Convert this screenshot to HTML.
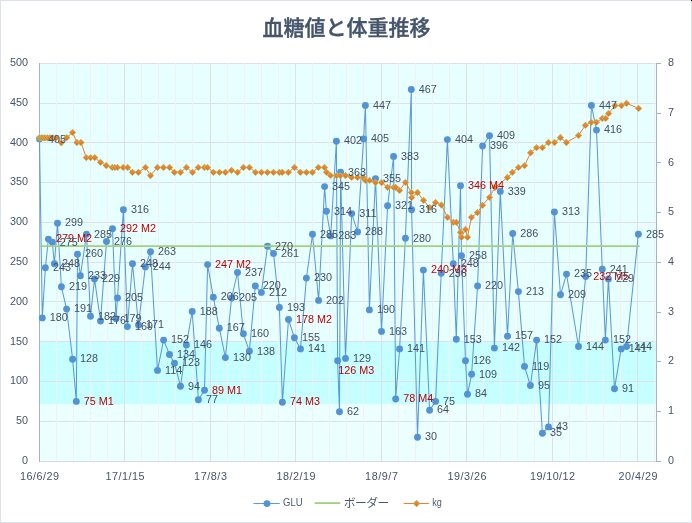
<!DOCTYPE html>
<html lang="ja"><head><meta charset="utf-8"><title>血糖値と体重推移</title>
<style>html,body{margin:0;padding:0;background:#fff;overflow:hidden}svg{display:block}text{font-family:"Liberation Sans","Noto Sans CJK JP",sans-serif}</style></head><body>
<svg width="692" height="523" viewBox="0 0 692 523">
<rect x="0" y="0" width="692" height="523" fill="#fff"/>
<rect x="0.5" y="0.5" width="691" height="522" fill="none" stroke="#dde2ea" stroke-width="1"/>
<rect x="691" y="0" width="1" height="1" fill="#000"/>
<rect x="39.5" y="63.0" width="617.0" height="399.0" fill="#e8ffff"/>
<rect x="39.5" y="341.2" width="617.0" height="63.1" fill="#c5ffff"/>
<rect x="39.5" y="404.3" width="617.0" height="57.7" fill="#ebffff"/>
<path d="M39.5 421.5H656.5M39.5 381.5H656.5M39.5 341.5H656.5M39.5 301.5H656.5M39.5 262.5H656.5M39.5 222.5H656.5M39.5 182.5H656.5M39.5 142.5H656.5M39.5 103.5H656.5M39.5 63.5H656.5" stroke="#dde0e8" stroke-width="1" fill="none"/>
<path d="M56.5 63.0V462.0M73.5 63.0V462.0M90.5 63.0V462.0M107.5 63.0V462.0M141.5 63.0V462.0M158.5 63.0V462.0M175.5 63.0V462.0M192.5 63.0V462.0M227.5 63.0V462.0M244.5 63.0V462.0M261.5 63.0V462.0M278.5 63.0V462.0M312.5 63.0V462.0M329.5 63.0V462.0M346.5 63.0V462.0M363.5 63.0V462.0M398.5 63.0V462.0M415.5 63.0V462.0M432.5 63.0V462.0M449.5 63.0V462.0M483.5 63.0V462.0M500.5 63.0V462.0M517.5 63.0V462.0M534.5 63.0V462.0M569.5 63.0V462.0M586.5 63.0V462.0M603.5 63.0V462.0M620.5 63.0V462.0M654.5 63.0V462.0" stroke="#f1f1f4" stroke-width="1" fill="none"/>
<path d="M124.5 63.0V462.0M210.5 63.0V462.0M295.5 63.0V462.0M381.5 63.0V462.0M466.5 63.0V462.0M552.5 63.0V462.0M637.5 63.0V462.0" stroke="#dde0e8" stroke-width="1" fill="none"/>
<path d="M39.5 461.5H656.5" stroke="#d3dae6" stroke-width="1" fill="none"/>
<path d="M39.5 63.0V462.0" stroke="#a6b2c9" stroke-width="1" fill="none"/>
<path d="M656.5 63.0V462.0M656.5 461.5h4.5M656.5 411.5h4.5M656.5 361.5h4.5M656.5 312.5h4.5M656.5 262.5h4.5M656.5 212.5h4.5M656.5 162.5h4.5M656.5 113.5h4.5M656.5 63.5h4.5" stroke="#a6b2c9" stroke-width="1" fill="none"/>
<g font-size="10.8" fill="#44546a">
<text x="28" y="463.9" text-anchor="end">0</text>
<text x="28" y="424.1" text-anchor="end">50</text>
<text x="28" y="384.3" text-anchor="end">100</text>
<text x="28" y="344.5" text-anchor="end">150</text>
<text x="28" y="304.8" text-anchor="end">200</text>
<text x="28" y="265.0" text-anchor="end">250</text>
<text x="28" y="225.2" text-anchor="end">300</text>
<text x="28" y="185.4" text-anchor="end">350</text>
<text x="28" y="145.6" text-anchor="end">400</text>
<text x="28" y="105.9" text-anchor="end">450</text>
<text x="28" y="66.1" text-anchor="end">500</text>
<text x="668" y="463.9">0</text>
<text x="668" y="414.1">1</text>
<text x="668" y="364.4">2</text>
<text x="668" y="314.7">3</text>
<text x="668" y="265.0">4</text>
<text x="668" y="215.2">5</text>
<text x="668" y="165.5">6</text>
<text x="668" y="115.8">7</text>
<text x="668" y="66.1">8</text>
<text x="20.1" y="479.9" textLength="38.8" lengthAdjust="spacing">16/6/29</text>
<text x="105.6" y="479.9" textLength="38.8" lengthAdjust="spacing">17/1/15</text>
<text x="194.1" y="479.9" textLength="32.8" lengthAdjust="spacing">17/8/3</text>
<text x="276.6" y="479.9" textLength="38.8" lengthAdjust="spacing">18/2/19</text>
<text x="365.1" y="479.9" textLength="32.8" lengthAdjust="spacing">18/9/7</text>
<text x="447.6" y="479.9" textLength="38.8" lengthAdjust="spacing">19/3/26</text>
<text x="530.0" y="479.9" textLength="44.9" lengthAdjust="spacing">19/10/12</text>
<text x="618.6" y="479.9" textLength="38.8" lengthAdjust="spacing">20/4/29</text>
</g>
<text x="346.5" y="35" text-anchor="middle" font-size="21" font-weight="500" fill="#44546a" stroke="#44546a" stroke-width="0.4" style="font-family:'Noto Sans CJK JP','Liberation Sans',sans-serif">血糖値と体重推移</text>
<polyline points="39.5,138.9 42.3,317.9 45.4,267.7 48.4,239.1 52.3,242.3 54.4,263.8 57.5,223.2 61.4,286.8 66.6,309.1 72.6,359.2 76.3,401.4 77.5,254.2 80.4,275.7 86.5,234.3 90.5,316.3 94.5,278.9 100.5,321.0 106.5,241.5 112.5,228.8 116.0,318.7 117.5,298.0 123.4,209.7 127.4,326.6 132.5,263.8 138.5,325.0 145.3,266.9 150.5,251.8 157.5,370.4 163.6,340.1 169.5,354.5 174.5,363.2 180.5,386.3 186.4,344.9 192.2,311.5 198.4,399.8 204.5,390.3 207.6,264.6 213.3,297.2 219.3,328.2 225.4,357.6 231.6,298.0 237.5,272.5 243.4,333.8 249.4,351.3 255.3,286.0 261.4,292.4 267.5,246.3 273.5,253.4 279.4,307.5 282.4,402.2 288.5,319.5 294.4,337.8 300.5,348.9 306.4,278.1 312.5,234.3 318.6,300.4 324.6,186.6 326.4,211.3 330.7,235.9 336.4,141.2 337.6,360.8 339.5,411.7 340.6,172.3 345.5,358.4 351.7,213.6 357.6,231.9 363.6,138.9 365.4,105.4 369.4,309.9 375.5,178.6 381.5,331.4 387.6,205.7 393.6,156.4 395.7,399.0 399.6,348.9 405.4,238.3 411.3,89.5 411.6,209.7 417.5,437.2 423.4,270.1 429.6,410.2 435.6,401.4 441.2,273.3 447.4,139.6 453.3,263.8 456.3,339.3 460.5,185.8 461.5,255.8 465.5,360.8 467.5,394.2 471.6,374.3 477.6,286.0 482.6,146.0 489.5,135.7 494.4,348.1 500.3,191.4 507.5,336.2 512.7,233.5 518.4,291.6 524.5,366.4 530.4,385.5 536.6,340.1 542.4,433.2 548.5,426.9 554.4,212.0 560.5,294.8 566.5,274.1 578.5,346.5 585.7,276.5 591.4,105.4 596.5,130.1 602.3,269.3 605.4,340.1 608.4,278.9 614.5,388.7 621.2,348.9 626.6,346.5 638.4,234.3" fill="none" stroke="#5b9bd5" stroke-width="1.05" stroke-linejoin="round"/>
<g fill="#5293d6">
<circle cx="39.5" cy="138.9" r="3.45"/>
<circle cx="42.3" cy="317.9" r="3.45"/>
<circle cx="45.4" cy="267.7" r="3.45"/>
<circle cx="48.4" cy="239.1" r="3.45"/>
<circle cx="52.3" cy="242.3" r="3.45"/>
<circle cx="54.4" cy="263.8" r="3.45"/>
<circle cx="57.5" cy="223.2" r="3.45"/>
<circle cx="61.4" cy="286.8" r="3.45"/>
<circle cx="66.6" cy="309.1" r="3.45"/>
<circle cx="72.6" cy="359.2" r="3.45"/>
<circle cx="76.3" cy="401.4" r="3.45"/>
<circle cx="77.5" cy="254.2" r="3.45"/>
<circle cx="80.4" cy="275.7" r="3.45"/>
<circle cx="86.5" cy="234.3" r="3.45"/>
<circle cx="90.5" cy="316.3" r="3.45"/>
<circle cx="94.5" cy="278.9" r="3.45"/>
<circle cx="100.5" cy="321.0" r="3.45"/>
<circle cx="106.5" cy="241.5" r="3.45"/>
<circle cx="112.5" cy="228.8" r="3.45"/>
<circle cx="116.0" cy="318.7" r="3.45"/>
<circle cx="117.5" cy="298.0" r="3.45"/>
<circle cx="123.4" cy="209.7" r="3.45"/>
<circle cx="127.4" cy="326.6" r="3.45"/>
<circle cx="132.5" cy="263.8" r="3.45"/>
<circle cx="138.5" cy="325.0" r="3.45"/>
<circle cx="145.3" cy="266.9" r="3.45"/>
<circle cx="150.5" cy="251.8" r="3.45"/>
<circle cx="157.5" cy="370.4" r="3.45"/>
<circle cx="163.6" cy="340.1" r="3.45"/>
<circle cx="169.5" cy="354.5" r="3.45"/>
<circle cx="174.5" cy="363.2" r="3.45"/>
<circle cx="180.5" cy="386.3" r="3.45"/>
<circle cx="186.4" cy="344.9" r="3.45"/>
<circle cx="192.2" cy="311.5" r="3.45"/>
<circle cx="198.4" cy="399.8" r="3.45"/>
<circle cx="204.5" cy="390.3" r="3.45"/>
<circle cx="207.6" cy="264.6" r="3.45"/>
<circle cx="213.3" cy="297.2" r="3.45"/>
<circle cx="219.3" cy="328.2" r="3.45"/>
<circle cx="225.4" cy="357.6" r="3.45"/>
<circle cx="231.6" cy="298.0" r="3.45"/>
<circle cx="237.5" cy="272.5" r="3.45"/>
<circle cx="243.4" cy="333.8" r="3.45"/>
<circle cx="249.4" cy="351.3" r="3.45"/>
<circle cx="255.3" cy="286.0" r="3.45"/>
<circle cx="261.4" cy="292.4" r="3.45"/>
<circle cx="267.5" cy="246.3" r="3.45"/>
<circle cx="273.5" cy="253.4" r="3.45"/>
<circle cx="279.4" cy="307.5" r="3.45"/>
<circle cx="282.4" cy="402.2" r="3.45"/>
<circle cx="288.5" cy="319.5" r="3.45"/>
<circle cx="294.4" cy="337.8" r="3.45"/>
<circle cx="300.5" cy="348.9" r="3.45"/>
<circle cx="306.4" cy="278.1" r="3.45"/>
<circle cx="312.5" cy="234.3" r="3.45"/>
<circle cx="318.6" cy="300.4" r="3.45"/>
<circle cx="324.6" cy="186.6" r="3.45"/>
<circle cx="326.4" cy="211.3" r="3.45"/>
<circle cx="330.7" cy="235.9" r="3.45"/>
<circle cx="336.4" cy="141.2" r="3.45"/>
<circle cx="337.6" cy="360.8" r="3.45"/>
<circle cx="339.5" cy="411.7" r="3.45"/>
<circle cx="340.6" cy="172.3" r="3.45"/>
<circle cx="345.5" cy="358.4" r="3.45"/>
<circle cx="351.7" cy="213.6" r="3.45"/>
<circle cx="357.6" cy="231.9" r="3.45"/>
<circle cx="363.6" cy="138.9" r="3.45"/>
<circle cx="365.4" cy="105.4" r="3.45"/>
<circle cx="369.4" cy="309.9" r="3.45"/>
<circle cx="375.5" cy="178.6" r="3.45"/>
<circle cx="381.5" cy="331.4" r="3.45"/>
<circle cx="387.6" cy="205.7" r="3.45"/>
<circle cx="393.6" cy="156.4" r="3.45"/>
<circle cx="395.7" cy="399.0" r="3.45"/>
<circle cx="399.6" cy="348.9" r="3.45"/>
<circle cx="405.4" cy="238.3" r="3.45"/>
<circle cx="411.3" cy="89.5" r="3.45"/>
<circle cx="411.6" cy="209.7" r="3.45"/>
<circle cx="417.5" cy="437.2" r="3.45"/>
<circle cx="423.4" cy="270.1" r="3.45"/>
<circle cx="429.6" cy="410.2" r="3.45"/>
<circle cx="435.6" cy="401.4" r="3.45"/>
<circle cx="441.2" cy="273.3" r="3.45"/>
<circle cx="447.4" cy="139.6" r="3.45"/>
<circle cx="453.3" cy="263.8" r="3.45"/>
<circle cx="456.3" cy="339.3" r="3.45"/>
<circle cx="460.5" cy="185.8" r="3.45"/>
<circle cx="461.5" cy="255.8" r="3.45"/>
<circle cx="465.5" cy="360.8" r="3.45"/>
<circle cx="467.5" cy="394.2" r="3.45"/>
<circle cx="471.6" cy="374.3" r="3.45"/>
<circle cx="477.6" cy="286.0" r="3.45"/>
<circle cx="482.6" cy="146.0" r="3.45"/>
<circle cx="489.5" cy="135.7" r="3.45"/>
<circle cx="494.4" cy="348.1" r="3.45"/>
<circle cx="500.3" cy="191.4" r="3.45"/>
<circle cx="507.5" cy="336.2" r="3.45"/>
<circle cx="512.7" cy="233.5" r="3.45"/>
<circle cx="518.4" cy="291.6" r="3.45"/>
<circle cx="524.5" cy="366.4" r="3.45"/>
<circle cx="530.4" cy="385.5" r="3.45"/>
<circle cx="536.6" cy="340.1" r="3.45"/>
<circle cx="542.4" cy="433.2" r="3.45"/>
<circle cx="548.5" cy="426.9" r="3.45"/>
<circle cx="554.4" cy="212.0" r="3.45"/>
<circle cx="560.5" cy="294.8" r="3.45"/>
<circle cx="566.5" cy="274.1" r="3.45"/>
<circle cx="578.5" cy="346.5" r="3.45"/>
<circle cx="585.7" cy="276.5" r="3.45"/>
<circle cx="591.4" cy="105.4" r="3.45"/>
<circle cx="596.5" cy="130.1" r="3.45"/>
<circle cx="602.3" cy="269.3" r="3.45"/>
<circle cx="605.4" cy="340.1" r="3.45"/>
<circle cx="608.4" cy="278.9" r="3.45"/>
<circle cx="614.5" cy="388.7" r="3.45"/>
<circle cx="621.2" cy="348.9" r="3.45"/>
<circle cx="626.6" cy="346.5" r="3.45"/>
<circle cx="638.4" cy="234.3" r="3.45"/>
</g>
<path d="M39.5 246.1H639.6" stroke="#a3d07a" stroke-width="1.8" fill="none"/>
<polyline points="39.5,137.8 41.2,137.8 43.0,137.8 45.0,137.8 47.5,137.8 50.0,137.8 53.0,137.8 56.0,137.8 61.3,142.8 66.8,137.6 72.6,132.4 76.9,142.5 81.0,142.5 86.3,157.6 90.6,157.6 94.7,157.6 100.5,162.3 106.2,165.5 112.3,167.4 114.8,167.4 117.4,167.4 123.2,167.4 127.6,167.4 132.4,172.3 138.4,172.3 145.5,167.4 150.5,175.5 157.4,167.4 163.5,167.4 169.6,167.4 174.4,172.3 180.5,172.3 186.4,167.4 192.5,172.3 198.3,167.4 204.4,167.4 207.5,167.4 213.4,172.3 219.5,172.3 225.4,172.3 231.5,170.3 237.5,172.3 243.4,167.4 249.4,167.4 255.5,172.3 261.4,172.3 267.4,172.3 273.5,172.3 279.4,172.3 282.2,172.3 288.4,172.3 294.5,167.4 300.4,172.3 306.4,172.3 312.4,172.3 318.4,167.4 324.5,167.4 326.5,172.2 330.5,175.4 336.5,175.6 340.3,175.6 345.5,175.5 351.6,177.4 357.5,177.4 363.3,177.4 365.4,180.4 369.6,180.4 375.5,182.5 381.6,182.5 387.6,187.3 393.6,187.3 395.6,187.3 399.5,190.4 405.4,182.4 411.4,192.5 411.6,197.6 417.5,192.5 423.5,200.3 429.7,207.6 435.5,202.4 441.4,205.0 447.5,217.3 453.4,222.3 456.4,222.3 460.5,232.3 461.5,237.2 465.5,229.4 467.5,237.2 471.4,217.3 477.5,212.5 482.5,205.3 489.5,197.3 495.0,187.5 507.4,177.5 512.4,172.3 518.5,167.4 524.6,165.6 530.6,152.7 536.6,147.6 542.4,147.6 548.4,142.5 554.5,142.5 560.4,137.5 566.4,142.5 578.5,135.4 585.4,125.3 591.3,122.3 596.4,122.3 602.3,118.4 605.6,118.4 608.6,113.4 615.0,105.6 621.4,105.6 626.6,103.3 638.6,108.4" fill="none" stroke="#ed7d31" stroke-width="1" stroke-linejoin="round"/>
<defs><linearGradient id="dg" x1="0" y1="0" x2="0" y2="1"><stop offset="0" stop-color="#f88d40"/><stop offset="1" stop-color="#e96c1b"/></linearGradient></defs>
<defs><g id="dm"><path d="M0 -3.65L3.65 0L0 3.65L-3.65 0Z" fill="#9fcd6a"/><path d="M0 -2.95L2.95 0L0 2.95L-2.95 0Z" fill="url(#dg)"/></g></defs>
<use href="#dm" x="39.5" y="137.8"/>
<use href="#dm" x="41.2" y="137.8"/>
<use href="#dm" x="43.0" y="137.8"/>
<use href="#dm" x="45.0" y="137.8"/>
<use href="#dm" x="47.5" y="137.8"/>
<use href="#dm" x="50.0" y="137.8"/>
<use href="#dm" x="53.0" y="137.8"/>
<use href="#dm" x="56.0" y="137.8"/>
<use href="#dm" x="61.3" y="142.8"/>
<use href="#dm" x="66.8" y="137.6"/>
<use href="#dm" x="72.6" y="132.4"/>
<use href="#dm" x="76.9" y="142.5"/>
<use href="#dm" x="81.0" y="142.5"/>
<use href="#dm" x="86.3" y="157.6"/>
<use href="#dm" x="90.6" y="157.6"/>
<use href="#dm" x="94.7" y="157.6"/>
<use href="#dm" x="100.5" y="162.3"/>
<use href="#dm" x="106.2" y="165.5"/>
<use href="#dm" x="112.3" y="167.4"/>
<use href="#dm" x="114.8" y="167.4"/>
<use href="#dm" x="117.4" y="167.4"/>
<use href="#dm" x="123.2" y="167.4"/>
<use href="#dm" x="127.6" y="167.4"/>
<use href="#dm" x="132.4" y="172.3"/>
<use href="#dm" x="138.4" y="172.3"/>
<use href="#dm" x="145.5" y="167.4"/>
<use href="#dm" x="150.5" y="175.5"/>
<use href="#dm" x="157.4" y="167.4"/>
<use href="#dm" x="163.5" y="167.4"/>
<use href="#dm" x="169.6" y="167.4"/>
<use href="#dm" x="174.4" y="172.3"/>
<use href="#dm" x="180.5" y="172.3"/>
<use href="#dm" x="186.4" y="167.4"/>
<use href="#dm" x="192.5" y="172.3"/>
<use href="#dm" x="198.3" y="167.4"/>
<use href="#dm" x="204.4" y="167.4"/>
<use href="#dm" x="207.5" y="167.4"/>
<use href="#dm" x="213.4" y="172.3"/>
<use href="#dm" x="219.5" y="172.3"/>
<use href="#dm" x="225.4" y="172.3"/>
<use href="#dm" x="231.5" y="170.3"/>
<use href="#dm" x="237.5" y="172.3"/>
<use href="#dm" x="243.4" y="167.4"/>
<use href="#dm" x="249.4" y="167.4"/>
<use href="#dm" x="255.5" y="172.3"/>
<use href="#dm" x="261.4" y="172.3"/>
<use href="#dm" x="267.4" y="172.3"/>
<use href="#dm" x="273.5" y="172.3"/>
<use href="#dm" x="279.4" y="172.3"/>
<use href="#dm" x="282.2" y="172.3"/>
<use href="#dm" x="288.4" y="172.3"/>
<use href="#dm" x="294.5" y="167.4"/>
<use href="#dm" x="300.4" y="172.3"/>
<use href="#dm" x="306.4" y="172.3"/>
<use href="#dm" x="312.4" y="172.3"/>
<use href="#dm" x="318.4" y="167.4"/>
<use href="#dm" x="324.5" y="167.4"/>
<use href="#dm" x="326.5" y="172.2"/>
<use href="#dm" x="330.5" y="175.4"/>
<use href="#dm" x="336.5" y="175.6"/>
<use href="#dm" x="340.3" y="175.6"/>
<use href="#dm" x="345.5" y="175.5"/>
<use href="#dm" x="351.6" y="177.4"/>
<use href="#dm" x="357.5" y="177.4"/>
<use href="#dm" x="363.3" y="177.4"/>
<use href="#dm" x="365.4" y="180.4"/>
<use href="#dm" x="369.6" y="180.4"/>
<use href="#dm" x="375.5" y="182.5"/>
<use href="#dm" x="381.6" y="182.5"/>
<use href="#dm" x="387.6" y="187.3"/>
<use href="#dm" x="393.6" y="187.3"/>
<use href="#dm" x="395.6" y="187.3"/>
<use href="#dm" x="399.5" y="190.4"/>
<use href="#dm" x="405.4" y="182.4"/>
<use href="#dm" x="411.4" y="192.5"/>
<use href="#dm" x="411.6" y="197.6"/>
<use href="#dm" x="417.5" y="192.5"/>
<use href="#dm" x="423.5" y="200.3"/>
<use href="#dm" x="429.7" y="207.6"/>
<use href="#dm" x="435.5" y="202.4"/>
<use href="#dm" x="441.4" y="205.0"/>
<use href="#dm" x="447.5" y="217.3"/>
<use href="#dm" x="453.4" y="222.3"/>
<use href="#dm" x="456.4" y="222.3"/>
<use href="#dm" x="460.5" y="232.3"/>
<use href="#dm" x="461.5" y="237.2"/>
<use href="#dm" x="465.5" y="229.4"/>
<use href="#dm" x="467.5" y="237.2"/>
<use href="#dm" x="471.4" y="217.3"/>
<use href="#dm" x="477.5" y="212.5"/>
<use href="#dm" x="482.5" y="205.3"/>
<use href="#dm" x="489.5" y="197.3"/>
<use href="#dm" x="495.0" y="187.5"/>
<use href="#dm" x="507.4" y="177.5"/>
<use href="#dm" x="512.4" y="172.3"/>
<use href="#dm" x="518.5" y="167.4"/>
<use href="#dm" x="524.6" y="165.6"/>
<use href="#dm" x="530.6" y="152.7"/>
<use href="#dm" x="536.6" y="147.6"/>
<use href="#dm" x="542.4" y="147.6"/>
<use href="#dm" x="548.4" y="142.5"/>
<use href="#dm" x="554.5" y="142.5"/>
<use href="#dm" x="560.4" y="137.5"/>
<use href="#dm" x="566.4" y="142.5"/>
<use href="#dm" x="578.5" y="135.4"/>
<use href="#dm" x="585.4" y="125.3"/>
<use href="#dm" x="591.3" y="122.3"/>
<use href="#dm" x="596.4" y="122.3"/>
<use href="#dm" x="602.3" y="118.4"/>
<use href="#dm" x="605.6" y="118.4"/>
<use href="#dm" x="608.6" y="113.4"/>
<use href="#dm" x="615.0" y="105.6"/>
<use href="#dm" x="621.4" y="105.6"/>
<use href="#dm" x="626.6" y="103.3"/>
<use href="#dm" x="638.6" y="108.4"/>
<g font-size="10.8" fill="#414f63">
<text x="48.0" y="142.9">405</text>
<text x="49.8" y="321.1">180</text>
<text x="52.9" y="270.9">243</text>
<text x="55.9" y="242.3" fill="#c00000">279 M2</text>
<text x="59.8" y="245.5">275</text>
<text x="61.9" y="267.0">248</text>
<text x="65.0" y="226.4">299</text>
<text x="68.9" y="290.0">219</text>
<text x="74.1" y="312.3">191</text>
<text x="80.1" y="362.4">128</text>
<text x="83.8" y="404.6" fill="#c00000">75 M1</text>
<text x="85.0" y="257.4">260</text>
<text x="87.9" y="278.9">233</text>
<text x="94.0" y="237.5">285</text>
<text x="98.0" y="319.5">182</text>
<text x="102.0" y="282.1">229</text>
<text x="108.0" y="324.2">176</text>
<text x="114.0" y="244.7">276</text>
<text x="120.0" y="232.0" fill="#c00000">292 M2</text>
<text x="123.5" y="321.9">179</text>
<text x="125.0" y="301.2">205</text>
<text x="130.9" y="212.9">316</text>
<text x="134.9" y="329.8">169</text>
<text x="140.0" y="267.0">248</text>
<text x="146.0" y="328.2">171</text>
<text x="152.8" y="270.1">244</text>
<text x="158.0" y="255.0">263</text>
<text x="165.0" y="373.6">114</text>
<text x="171.1" y="343.3">152</text>
<text x="177.0" y="357.7">134</text>
<text x="182.0" y="366.4">123</text>
<text x="188.0" y="389.5">94</text>
<text x="193.9" y="348.1">146</text>
<text x="199.7" y="314.7">188</text>
<text x="205.9" y="403.0">77</text>
<text x="212.0" y="393.5" fill="#c00000">89 M1</text>
<text x="215.1" y="267.8" fill="#c00000">247 M2</text>
<text x="220.8" y="300.4">206</text>
<text x="226.8" y="331.4">167</text>
<text x="232.9" y="360.8">130</text>
<text x="239.1" y="301.2">205</text>
<text x="245.0" y="275.7">237</text>
<text x="250.9" y="337.0">160</text>
<text x="256.9" y="354.5">138</text>
<text x="262.8" y="289.2">220</text>
<text x="268.9" y="295.6">212</text>
<text x="275.0" y="249.5">270</text>
<text x="281.0" y="256.6">261</text>
<text x="286.9" y="310.7">193</text>
<text x="289.9" y="405.4" fill="#c00000">74 M3</text>
<text x="296.0" y="322.7" fill="#c00000">178 M2</text>
<text x="301.9" y="341.0">155</text>
<text x="308.0" y="352.1">141</text>
<text x="313.9" y="281.3">230</text>
<text x="320.0" y="237.5">285</text>
<text x="326.1" y="303.6">202</text>
<text x="332.1" y="189.8">345</text>
<text x="333.9" y="214.5">314</text>
<text x="338.2" y="239.1">283</text>
<text x="343.9" y="144.4">402</text>
<text x="338.3" y="374.2" fill="#c00000">126 M3</text>
<text x="347.0" y="414.9">62</text>
<text x="348.1" y="175.5">363</text>
<text x="353.0" y="361.6">129</text>
<text x="359.2" y="216.8">311</text>
<text x="365.1" y="235.1">288</text>
<text x="371.1" y="142.1">405</text>
<text x="372.9" y="108.6">447</text>
<text x="376.9" y="313.1">190</text>
<text x="383.0" y="181.8">355</text>
<text x="389.0" y="334.6">163</text>
<text x="395.1" y="208.9">321</text>
<text x="401.1" y="159.6">383</text>
<text x="403.2" y="402.2" fill="#c00000">78 M4</text>
<text x="407.1" y="352.1">141</text>
<text x="412.9" y="241.5">280</text>
<text x="418.8" y="92.7">467</text>
<text x="419.1" y="212.9">316</text>
<text x="425.0" y="440.4">30</text>
<text x="430.9" y="273.3" fill="#c00000">240 M3</text>
<text x="437.1" y="413.4">64</text>
<text x="443.1" y="404.6">75</text>
<text x="448.7" y="276.5">236</text>
<text x="454.9" y="142.8">404</text>
<text x="460.8" y="267.0">248</text>
<text x="463.8" y="342.5">153</text>
<text x="468.0" y="189.0" fill="#c00000">346 M4</text>
<text x="469.0" y="259.0">258</text>
<text x="473.0" y="364.0">126</text>
<text x="475.0" y="397.4">84</text>
<text x="479.1" y="377.5">109</text>
<text x="485.1" y="289.2">220</text>
<text x="490.1" y="149.2">396</text>
<text x="497.0" y="138.9">409</text>
<text x="501.9" y="351.3">142</text>
<text x="507.8" y="194.6">339</text>
<text x="515.0" y="339.4">157</text>
<text x="520.2" y="236.7">286</text>
<text x="525.9" y="294.8">213</text>
<text x="532.0" y="369.6">119</text>
<text x="537.9" y="388.7">95</text>
<text x="544.1" y="343.3">152</text>
<text x="549.9" y="436.4">35</text>
<text x="556.0" y="430.1">43</text>
<text x="561.9" y="215.2">313</text>
<text x="568.0" y="298.0">209</text>
<text x="574.0" y="277.3">235</text>
<text x="586.0" y="349.7">144</text>
<text x="593.2" y="279.7" fill="#c00000">232 M5</text>
<text x="598.9" y="108.6">447</text>
<text x="604.0" y="133.3">416</text>
<text x="609.8" y="272.5">241</text>
<text x="612.9" y="343.3">152</text>
<text x="615.9" y="282.1">229</text>
<text x="622.0" y="391.9">91</text>
<text x="628.7" y="352.1">141</text>
<text x="634.1" y="349.7">144</text>
<text x="645.9" y="237.5">285</text>
</g>
<path d="M253.5 503.5H279.7" stroke="#5b9bd5" stroke-width="1"/><circle cx="267" cy="503.6" r="3.45" fill="#5293d6"/>
<path d="M314.7 503.1H340.3" stroke="#a3d07a" stroke-width="1.8"/>
<path d="M403.7 503.5H429.2" stroke="#ed7d31" stroke-width="1"/><use href="#dm" x="416.6" y="503.5"/>
<g font-size="10.9" fill="#4d5a6c"><text x="283" y="505.8" textLength="19.6" lengthAdjust="spacingAndGlyphs">GLU</text>
<text x="343.8" y="506.7" font-size="11.8" textLength="45.6" lengthAdjust="spacing" style="font-family:'Noto Sans CJK JP','Liberation Sans',sans-serif">ボーダー</text>
<text x="432.3" y="505.8" textLength="9.6" lengthAdjust="spacingAndGlyphs">kg</text></g>
</svg></body></html>
